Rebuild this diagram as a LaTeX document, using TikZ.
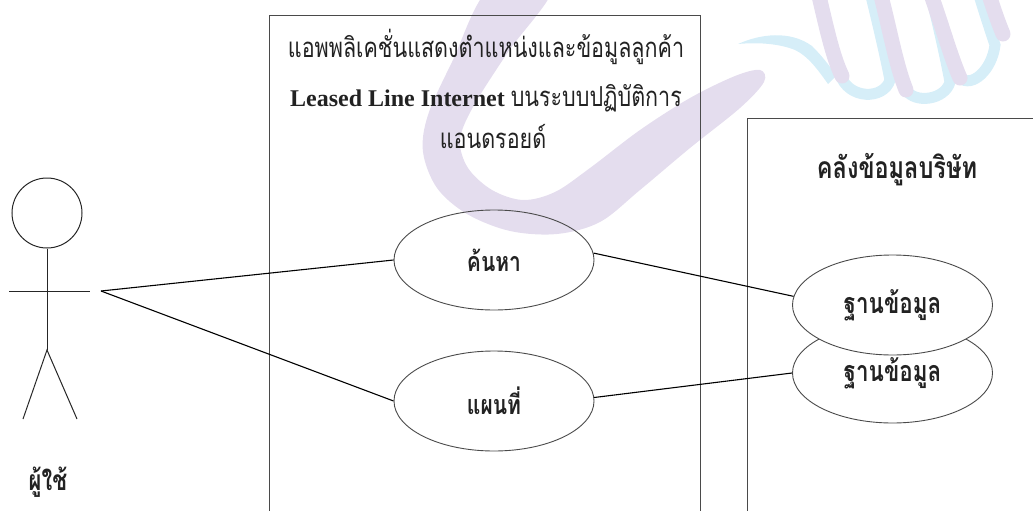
\documentclass[tikz,border=0pt]{standalone}
\usepackage{graphicx}
\usepackage{fontspec}
\setmainfont{Liberation Serif}
\newfontfamily\thaifont[Script=Thai]{Loma}
\usetikzlibrary{shapes.geometric}

% Thai lettering is set a little taller than Loma's natural proportions
\newcommand{\tallth}[1]{\scalebox{1}[1.28]{#1}}

\definecolor{wmlav}{HTML}{E4DDEE}
\definecolor{wmblue}{HTML}{D6EEF8}
\definecolor{ink}{HTML}{222222}
\definecolor{frame}{HTML}{4A4A4A}

\begin{document}
\begin{tikzpicture}[x=1pt,y=-1pt,
  usecase/.style={ellipse, draw=frame, line width=0.9pt, minimum width=200pt,
    minimum height=100pt, inner sep=0pt, text=ink,
    font=\thaifont\bfseries\fontsize{21}{25}\selectfont},
  conn/.style={draw=black, line width=1.1pt},
  sysbox/.style={draw=frame, line width=0.9pt},
  stick/.style={draw=black!85, line width=1pt},
  ttl/.style={anchor=base, text=ink, inner sep=0pt},
  ribbonL/.style={draw=wmlav, line cap=round, line width=15pt},
  ribbonB/.style={draw=wmblue, line cap=round, line width=11pt},
]
\useasboundingbox (0,0) rectangle (1033,511);
\clip (0,0) rectangle (1033,511);

% light logo in the background: a broad C stroke and a twisted ribbon
\fill[wmlav] plot[smooth cycle, tension=0.55] coordinates {
  (490,-12) (452,62) (428,115) (423,152) (437,188) (467,214) (510,231)
  (557,234) (600,222) (640,190) (690,148) (740,108) (764,82) (760,70)
  (735,76) (690,98) (640,130) (590,168) (555,192) (523,200) (492,190)
  (468,168) (460,140) (473,107) (508,52) (552,-12)};
\fill[wmblue] (738,44) .. controls (760,34) and (790,30) .. (812,46)
  .. controls (822,56) and (830,66) .. (836,76) -- (828,84)
  .. controls (818,70) and (808,56) .. (795,50)
  .. controls (780,44) and (760,42) .. (738,44) -- cycle;
\draw[ribbonB] (840,74) .. controls (848,100) and (884,100) .. (890,80)
  .. controls (884,50) and (878,25) .. (870,-8);
\draw[ribbonB] (906,90) .. controls (915,104) and (945,100) .. (950,82)
  .. controls (945,55) and (938,25) .. (930,-8);
\draw[ribbonB] (960,78) .. controls (972,88) and (992,70) .. (995,45)
  .. controls (990,30) and (985,15) .. (978,-8);
\draw[ribbonL] (818,-8) .. controls (826,25) and (832,55) .. (842,76);
\draw[ribbonL] (880,-8) .. controls (890,30) and (896,65) .. (906,90);
\draw[ribbonL] (930,-8) .. controls (942,25) and (950,55) .. (960,78);
\draw[ribbonL] (988,-8) .. controls (994,10) and (998,22) .. (1003,34);

% system boundaries
\draw[sysbox] (269,530) -- (269,15) -- (700.5,15) -- (700.5,530);
\draw[sysbox] (747,530) -- (747,118) -- (1040,118);

% titles
\node[ttl, font=\thaifont\fontsize{21.5}{25}\selectfont] (app1) at (486,58)
  {\tallth{แอพพลิเคชั่นแสดงตำแหน่งและข้อมูลลูกค้า}};
\node[ttl, font=\fontsize{24}{28}\selectfont] (app2) at (486,106)
  {\textbf{Leased Line Internet} {\thaifont\fontsize{21.5}{25}\selectfont\tallth{บนระบบปฏิบัติการ}}};
\node[ttl, font=\thaifont\fontsize{21.5}{25}\selectfont] (app3) at (493,148)
  {\tallth{แอนดรอยด์}};
\node[ttl, font=\thaifont\bfseries\fontsize{23.5}{27}\selectfont] (store) at (897,178)
  {\tallth{คลังข้อมูลบริษัท}};

% actor
\node[circle, draw=black!85, line width=1pt, minimum size=70pt, inner sep=0pt]
  (head) at (47,213) {};
\coordinate (hip) at (47,350);
\coordinate (lhand) at (9,291);
\coordinate (rhand) at (90,291);
\coordinate (lfoot) at (23,419);
\coordinate (rfoot) at (77,419);
\draw[stick] (head.south) -- (hip);
\draw[stick] (lhand) -- (rhand);
\draw[stick] (lfoot) -- (hip) -- (rfoot);
\node[ttl, font=\thaifont\bfseries\fontsize{22}{26}\selectfont] (user) at (48,490)
  {\tallth{ผู้ใช้}};
\coordinate (link) at (101,291);

% use cases
\node[usecase] (search) at (494,260) {\tallth{ค้นหา}};
\node[usecase] (map) at (494,401) {\tallth{แผนที่}};
\node[usecase, fill=white, font=\thaifont\bfseries\fontsize{22.4}{26}\selectfont]
  (dblow) at (892.5,373) {\tallth{ฐานข้อมูล}};
\node[usecase, fill=white, font=\thaifont\bfseries\fontsize{22.4}{26}\selectfont]
  (dbup) at (892.5,305) {\tallth{ฐานข้อมูล}};

% associations
\draw[conn] (link) -- (search.west);
\draw[conn] (link) -- (map.west);
\draw[conn] (search.4) -- (dbup.175);
\draw[conn] (map.2) -- (dblow.west);
\end{tikzpicture}
\end{document}
